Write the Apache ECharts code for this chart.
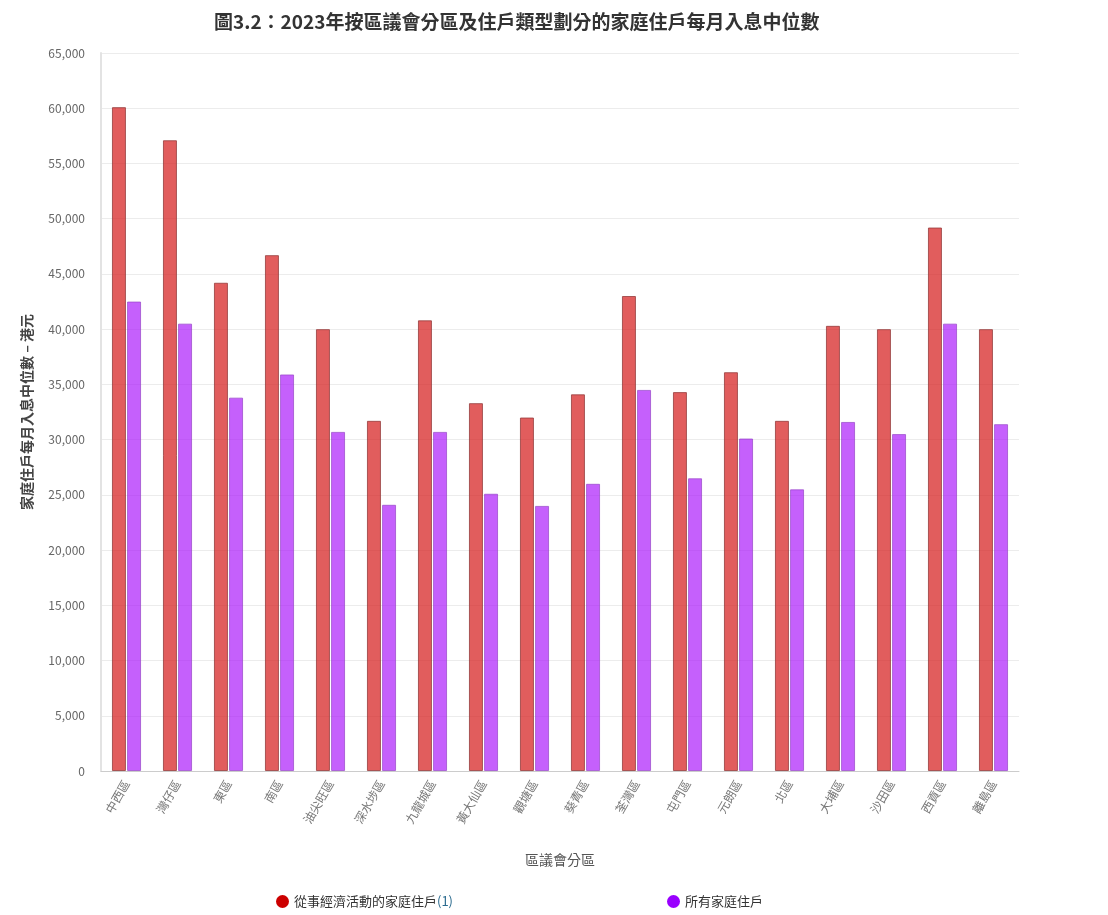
<!DOCTYPE html>
<html>
<head>
<meta charset="utf-8">
<script src="https://cdn.jsdelivr.net/npm/echarts@6/dist/echarts.min.js"></script>
<style>
html,body{margin:0;padding:0;background:#fff;}
#c{width:1108px;height:915px;}
</style>
</head>
<body>
<div id="c"></div>
<script>
const titleText = '圖3.2：2023年按區議會分區及住戶類型劃分的家庭住戶每月入息中位數';
const categories = ['中西區','灣仔區','東區','南區','油尖旺區','深水埗區','九龍城區','黃大仙區','觀塘區','葵青區','荃灣區','屯門區','元朗區','北區','大埔區','沙田區','西貢區','離島區'];
const seriesNames = ['從事經濟活動的家庭住戶', '所有家庭住戶'];
const economicHouseholds = [60100, 57100, 44200, 46700, 40000, 31700, 40800, 33300, 32000, 34100, 43000, 34300, 36100, 31700, 40300, 40000, 49200, 40000];
const allHouseholds = [42500, 40500, 33800, 35900, 30700, 24100, 30700, 25100, 24000, 26000, 34500, 26500, 30100, 25500, 31600, 30500, 40500, 31400];
const yTicks = {min: 0, max: 65000, interval: 5000};
const xAxisName = '區議會分區';
const yAxisName = '家庭住戶每月入息中位數 – 港元';

const FONT = '"Noto Sans CJK TC", "Noto Sans", sans-serif';
const chart = echarts.init(document.getElementById('c'), null, {renderer: 'canvas'});
chart.setOption({
  animation: false,
  textStyle: {fontFamily: FONT},
  title: {
    text: titleText,
    left: 209, top: 7,
    textStyle: {fontSize: 19, fontWeight: 'bold', color: '#333', fontFamily: FONT}
  },
  legend: {
    left: 271, bottom: 2,
    itemWidth: 13, itemHeight: 13, itemGap: 214,
    icon: 'circle',
    textStyle: {fontSize: 13, color: '#333', fontFamily: FONT,
      rich: {link: {fontSize: 13, color: '#2b6b8f', fontFamily: FONT}}},
    formatter: function (n) { return n === seriesNames[0] ? n + '{link|(1)}' : n; },
    data: [
      {name: seriesNames[0], itemStyle: {color: '#cc0000', opacity: 1, borderWidth: 0}},
      {name: seriesNames[1], itemStyle: {color: '#9900ff', opacity: 1, borderWidth: 0}}
    ]
  },
  grid: {left: 101, right: 89, top: 53, bottom: 144, containLabel: false},
  xAxis: {
    type: 'category',
    data: categories,
    name: xAxisName,
    nameLocation: 'middle',
    nameGap: 82,
    nameTextStyle: {fontSize: 14, color: '#555', fontFamily: FONT},
    axisLine: {lineStyle: {color: '#ccc'}},
    axisTick: {show: false},
    axisLabel: {rotate: 60, fontSize: 12, color: '#777', margin: 10, fontFamily: FONT}
  },
  yAxis: {
    type: 'value',
    min: yTicks.min, max: yTicks.max, interval: yTicks.interval,
    name: yAxisName,
    nameLocation: 'middle',
    nameGap: 67,
    nameTextStyle: {fontSize: 14, fontWeight: 'bold', color: '#444', fontFamily: FONT},
    axisLine: {show: true, lineStyle: {color: '#e3e3e3', width: 2}},
    axisTick: {show: false},
    axisLabel: {fontSize: 12, color: '#666', margin: 16, fontFamily: FONT},
    splitLine: {lineStyle: {color: '#ececec'}}
  },
  series: [
    {
      name: seriesNames[0], type: 'bar', data: economicHouseholds,
      barWidth: 14, barGap: '8%',
      itemStyle: {color: 'rgba(214,30,30,0.72)', borderColor: 'rgba(150,60,60,0.8)', borderWidth: 1}
    },
    {
      name: seriesNames[1], type: 'bar', data: allHouseholds,
      barWidth: 14,
      itemStyle: {color: 'rgba(170,20,250,0.68)', borderColor: 'rgba(150,70,200,0.7)', borderWidth: 1}
    }
  ]
});
</script>
</body>
</html>
